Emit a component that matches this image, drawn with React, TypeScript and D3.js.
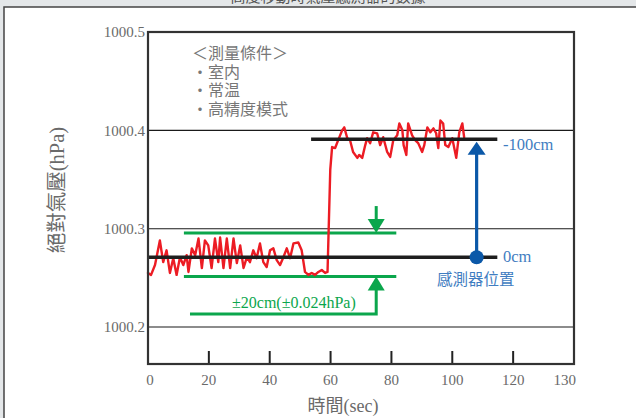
import React from "react";
import * as d3 from "d3";

// ---- data ----
const timeSec = [
  0, 1.0, 2.3, 3.9, 5.0, 6.1, 7.2, 8.3, 9.4, 10.5, 11.6, 12.7, 13.3, 14.4, 15.5, 16.6, 17.7, 18.7, 19.8,
  20.9, 22.0, 23.1, 23.7, 24.8, 25.9, 27.0, 28.1, 29.2, 30.3, 31.4, 32.5, 33.5, 34.6, 35.7, 36.8, 37.9,
  39.0, 40.1, 41.2, 42.3, 43.4, 44.5, 45.6, 46.7, 47.8, 49.4, 50.5, 51.6, 52.7, 53.8, 54.9, 56.0, 57.1,
  58.2, 59.0, 59.9, 60.5, 61.5, 62.5, 63.8, 64.5, 65.5, 66.4, 67.4, 68.8, 69.4, 70.4, 71.4, 72.0, 73.0,
  74.0, 75.3, 76.3, 77.3, 78.6, 79.6, 80.6, 81.9, 82.6, 83.6, 84.0, 84.9, 85.5, 86.8, 87.8, 88.8, 90.1,
  90.8, 91.8, 92.8, 93.8, 94.7, 95.4, 96.1, 97.0, 97.7, 98.7, 100.0, 101.3, 102.3, 103.3, 103.9,
];
const pressureHPa = [
  1000.255, 1000.253, 1000.263, 1000.288, 1000.266, 1000.278, 1000.255, 1000.270, 1000.253, 1000.271,
  1000.263, 1000.273, 1000.256, 1000.280, 1000.273, 1000.290, 1000.260, 1000.288, 1000.283, 1000.260,
  1000.290, 1000.266, 1000.291, 1000.260, 1000.290, 1000.260, 1000.290, 1000.265, 1000.283, 1000.260,
  1000.271, 1000.266, 1000.278, 1000.270, 1000.285, 1000.266, 1000.261, 1000.278, 1000.280, 1000.268,
  1000.263, 1000.271, 1000.280, 1000.270, 1000.285, 1000.286, 1000.278, 1000.256, 1000.253, 1000.255,
  1000.253, 1000.256, 1000.258, 1000.255, 1000.256, 1000.360, 1000.383, 1000.382, 1000.390, 1000.400,
  1000.403, 1000.392, 1000.390, 1000.378, 1000.372, 1000.375, 1000.372, 1000.385, 1000.392, 1000.387,
  1000.398, 1000.397, 1000.385, 1000.393, 1000.378, 1000.373, 1000.390, 1000.395, 1000.407, 1000.400,
  1000.385, 1000.375, 1000.407, 1000.395, 1000.390, 1000.387, 1000.378, 1000.385, 1000.403, 1000.398,
  1000.402, 1000.397, 1000.382, 1000.410, 1000.407, 1000.385, 1000.383, 1000.392, 1000.372, 1000.398,
  1000.407, 1000.393,
];

const xTickValues = [0, 20, 40, 60, 80, 100, 120, 140];
const xTickLabels = ["0", "20", "40", "60", "80", "100", "120", "130"];
const xTickMarks = [20, 40, 60, 80, 100, 120];
const yTickValues = [1000.2, 1000.3, 1000.4, 1000.5];
const yTickLabels = ["1000.2", "1000.3", "1000.4", "1000.5"];
const yGridValues = [1000.2, 1000.3, 1000.4];

// reference levels
const level0cm = 1000.271;
const levelMinus100cm = 1000.391;
const level0Range = [0, 114.8];
const levelMinus100Range = [53.6, 114.8];
const toleranceUpper = 1000.2955;
const toleranceLower = 1000.2515;
const toleranceRange = [11.8, 81.6];
const toleranceArrowTime = 75;
const toleranceArrowTop = 1000.323;
const toleranceLeader = 1000.2132;
const toleranceLeaderEnd = 13.8;
const sensorArrowTime = 108;

const conditionLines = ["＜測量條件＞", "・室内", "・常温", "・高精度模式"];

const SERIF = "'Liberation Serif', 'Noto Sans CJK TC', serif";
const CJK = "'Noto Sans CJK TC', sans-serif";
const RED = "#ec1c24";
const GREEN = "#0ba64c";
const BLUE = "#0b58a8";
const BLUE_TXT = "#3f7dc1";
const GRAY_TXT = "#6a6a6a";

export default function App() {
  const W = 636;
  const H = 418;
  const x = d3.scaleLinear().domain([0, 140]).range([148, 574]);
  const y = d3.scaleLinear().domain([1000.1624, 1000.5]).range([364, 32]);

  const pts: [number, number][] = timeSec.map((t, i) => [t, pressureHPa[i]]);
  const line = d3
    .line<[number, number]>()
    .x((d) => x(d[0]))
    .y((d) => y(d[1]));

  const gx = x(toleranceArrowTime);
  const gUp = y(toleranceUpper);
  const gLo = y(toleranceLower);
  const bx = x(sensorArrowTime);
  const b0 = y(level0cm);
  const bTip = y(levelMinus100cm) + 2.5;

  return (
    <svg
      width={W}
      height={H}
      style={{ position: "absolute", left: 0, top: 0 }}
      xmlns="http://www.w3.org/2000/svg"
    >
      <rect x={0} y={0} width={W} height={H} fill="#e4e7e9" />
      <text x={328} y={2} textAnchor="middle" fontFamily={CJK} fontSize={15} fill="#555">
        高度移動時氣壓感測器的數據
      </text>
      <rect x={4} y={7} width={W + 20} height={H + 20} fill="#fff" stroke="#444" strokeWidth={1.5} />

      {/* gridlines */}
      {yGridValues.map((v) => (
        <line key={v} x1={x(0)} x2={x(140)} y1={y(v)} y2={y(v)} stroke="#1a1a1a" strokeWidth={1.1} />
      ))}

      {/* x tick marks */}
      {xTickMarks.map((t) => (
        <line key={t} x1={x(t)} x2={x(t)} y1={364} y2={351} stroke="#222" strokeWidth={2} />
      ))}

      {/* green tolerance lines */}
      <line x1={x(toleranceRange[0])} x2={x(toleranceRange[1])} y1={gUp} y2={gUp} stroke={GREEN} strokeWidth={3} />
      <line x1={x(toleranceRange[0])} x2={x(toleranceRange[1])} y1={gLo} y2={gLo} stroke={GREEN} strokeWidth={3} />

      {/* data line */}
      <path d={line(pts) || ""} fill="none" stroke={RED} strokeWidth={2.4} strokeLinejoin="round" strokeLinecap="round" />

      {/* black reference levels */}
      <line x1={x(level0Range[0])} x2={x(level0Range[1])} y1={y(level0cm)} y2={y(level0cm)} stroke="#1e1e1e" strokeWidth={3.5} />
      <line
        x1={x(levelMinus100Range[0])}
        x2={x(levelMinus100Range[1])}
        y1={y(levelMinus100cm)}
        y2={y(levelMinus100cm)}
        stroke="#1e1e1e"
        strokeWidth={3.5}
      />

      {/* green double arrow */}
      <line x1={gx} x2={gx} y1={y(toleranceArrowTop)} y2={gUp - 10} stroke={GREEN} strokeWidth={3} />
      <path d={`M${gx - 8.5},${gUp - 14}L${gx + 8.5},${gUp - 14}L${gx},${gUp}Z`} fill={GREEN} />
      <path d={`M${gx - 8.5},${gLo + 14}L${gx + 8.5},${gLo + 14}L${gx},${gLo}Z`} fill={GREEN} />
      <path
        d={`M${gx},${gLo + 10}L${gx},${y(toleranceLeader)}L${x(toleranceLeaderEnd)},${y(toleranceLeader)}`}
        fill="none"
        stroke={GREEN}
        strokeWidth={3}
      />
      <text x={232} y={308} fontFamily={SERIF} fontSize={16} fill={GREEN}>
        ±20cm(±0.024hPa)
      </text>

      {/* blue sensor arrow */}
      <line x1={bx} x2={bx} y1={b0} y2={bTip + 10} stroke={BLUE} strokeWidth={3.2} />
      <path d={`M${bx - 9},${bTip + 13}L${bx + 9},${bTip + 13}L${bx},${bTip}Z`} fill={BLUE} />
      <circle cx={bx} cy={b0} r={7} fill={BLUE} />
      <text x={503} y={150} fontFamily={SERIF} fontSize={16.5} fill={BLUE_TXT}>
        -100cm
      </text>
      <text x={503} y={262} fontFamily={SERIF} fontSize={16.5} fill={BLUE_TXT}>
        0cm
      </text>
      <text x={437} y={285} fontFamily={CJK} fontSize={15.5} fill={BLUE_TXT}>
        感測器位置
      </text>

      {/* measurement conditions */}
      {conditionLines.map((s, i) => (
        <text key={s} x={192} y={59 + i * 18.5} fontFamily={CJK} fontSize={16} fill="#777">
          {s}
        </text>
      ))}

      {/* frame */}
      <rect x={148} y={32} width={426} height={332} fill="none" stroke="#333" strokeWidth={2.2} />

      {/* y tick labels */}
      {yTickValues.map((v, i) => (
        <text key={v} x={145} y={y(v)} dy="0.35em" textAnchor="end" fontFamily={SERIF} fontSize={15} fill={GRAY_TXT}>
          {yTickLabels[i]}
        </text>
      ))}
      {/* x tick labels */}
      {xTickValues.map((t, i) => (
        <text
          key={t}
          x={i === xTickValues.length - 1 ? x(t) + 2 : x(t) + (i === 0 ? 2 : 0)}
          y={385}
          textAnchor={i === xTickValues.length - 1 ? "end" : "middle"}
          fontFamily={SERIF}
          fontSize={15}
          fill={GRAY_TXT}
        >
          {xTickLabels[i]}
        </text>
      ))}

      {/* axis titles */}
      <text x={343} y={412} textAnchor="middle" fontFamily={SERIF} fontSize={18} fill={GRAY_TXT}>
        時間(sec)
      </text>
      <text
        transform={`translate(64,190) rotate(-90)`}
        textAnchor="middle"
        fontFamily={SERIF}
        fontSize={20.5}
        fill={GRAY_TXT}
      >
        絕對氣壓(hPa)
      </text>
    </svg>
  );
}
